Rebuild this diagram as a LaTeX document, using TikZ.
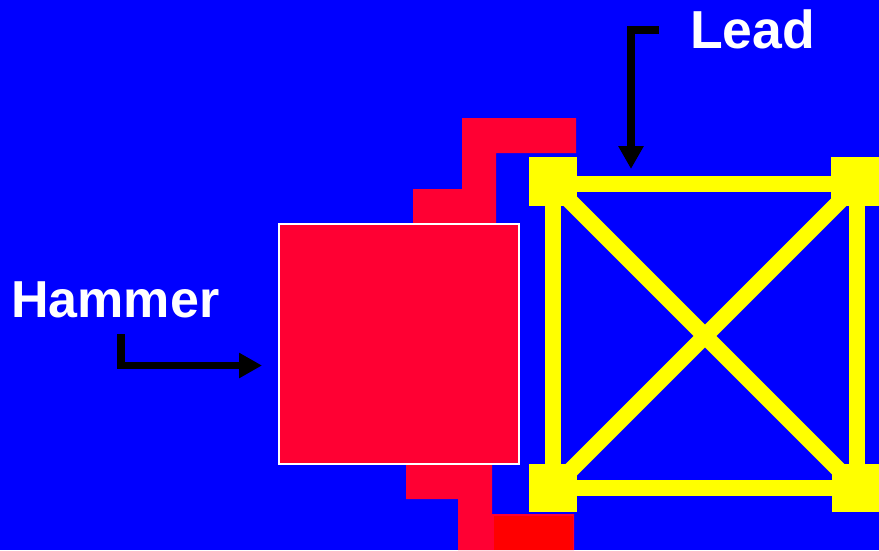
\documentclass[tikz,border=0pt]{standalone}
\usepackage{fontspec}
\setmainfont{Liberation Sans}
\usetikzlibrary{arrows.meta}
\definecolor{bgblue}{HTML}{0000FF}
\definecolor{crim}{HTML}{FF0033}
\definecolor{pured}{HTML}{FF0000}
\definecolor{yel}{HTML}{FFFF00}
\tikzset{
  label text/.style={text=white, font=\fontsize{52}{52}\selectfont\bfseries, inner sep=0pt, anchor=base west},
  pointer/.style={draw=black, line width=7.5pt, -{Triangle[length=23pt,width=24pt]}},
  bar/.style={draw=yel, line width=16pt},
  corner/.style={fill=yel},
  redpart/.style={fill=crim},
}
\begin{document}
\begin{tikzpicture}[x=1pt,y=-1pt]
\fill[bgblue] (0,0) rectangle (879,550);
\useasboundingbox (0,0) rectangle (879,550);
% red hammer parts
\fill[redpart] (462,118) -- (576,118) -- (576,153) -- (496,153) -- (496,223) -- (413,223) -- (413,189) -- (462,189) -- cycle;
\fill[redpart] (406,464) -- (492,464) -- (492,514) -- (574,514) -- (574,550) -- (458,550) -- (458,499) -- (406,499) -- cycle;
\fill[pured] (494,516) rectangle (573,550);
\node[draw=white, line width=1.5pt, fill=crim, minimum width=240pt, minimum height=240pt, inner sep=0pt] (hammer) at (399,344) {};
% yellow lead frame
\coordinate (tl) at (553,184);
\coordinate (tr) at (857,184);
\coordinate (bl) at (553,488);
\coordinate (br) at (857,488);
\draw[bar] (tl) -- (tr) -- (br) -- (bl) -- cycle;
\draw[bar] (tl) -- (br);
\draw[bar] (tr) -- (bl);
\fill[corner] (529,157) rectangle (577,206);
\fill[corner] (831,157) rectangle (880,206);
\fill[corner] (529,464) rectangle (577,512);
\fill[corner] (832,464) rectangle (880,512);
% labels and pointers
\node[label text, font=\fontsize{53.5}{53.5}\selectfont\bfseries] (leadlabel) at (690,48.5) {Lead};
\node[label text] (hammerlabel) at (11,317) {Hammer};
\coordinate (leadstart) at (659,30);
\coordinate (leadtip) at (631,169);
\draw[pointer] (leadstart) -- (631,30) -- (leadtip);
\coordinate (hamstart) at (121,334);
\coordinate (hamtip) at (262,365.5);
\draw[pointer] (hamstart) |- (hamtip);
\end{tikzpicture}
\end{document}
